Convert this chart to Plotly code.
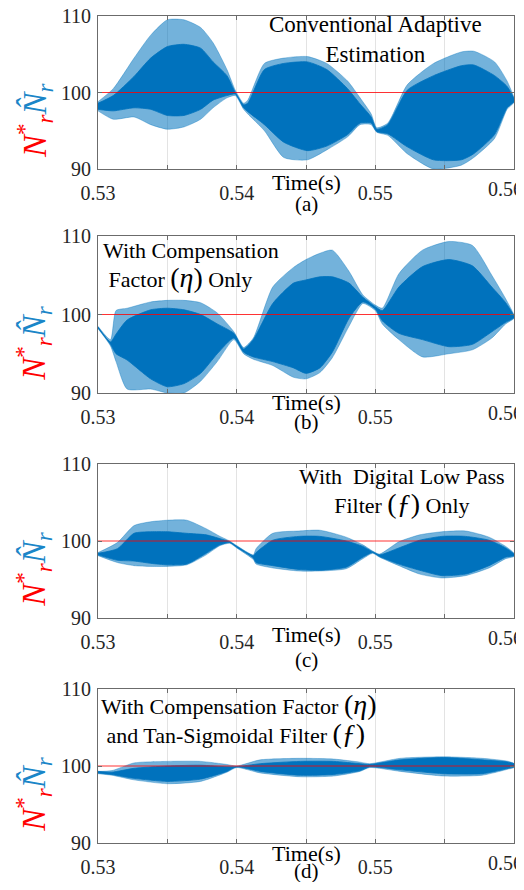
import plotly.graph_objects as go

# ---------------- data ----------------
REF_SPEED = 100
T_RANGE = [0.53, 0.56]
Y_RANGE = [90, 110]
X_TICKS = [0.53, 0.535, 0.54, 0.545, 0.55, 0.555, 0.56]
X_TICK_TEXT = ["0.53", "", "0.54", "", "0.55", "", ""]
LAST_TICK = 0.56
LAST_TICK_TEXT = "0.56"
Y_TICKS = [90, 100, 110]

# Panel (a): conventional adaptive estimation
t_a = [0.5300, 0.5311, 0.5326, 0.5338, 0.5350, 0.5362, 0.5374, 0.5383, 0.5393, 0.5399,
       0.5405, 0.5408, 0.5420, 0.5434, 0.5451, 0.5465, 0.5480, 0.5489, 0.5497, 0.5501,
       0.5509, 0.5523, 0.5542, 0.5562, 0.5571, 0.5586, 0.5595, 0.5600]
peak_hi_a = [98.8, 100.5, 104.5, 107.5, 109.5, 109.5, 108.5, 106.5, 103.0, 100.3,
             98.6, 99.0, 103.8, 104.5, 104.7, 103.8, 101.5, 99.3, 97.2, 95.4,
             96.0, 101.0, 103.8, 105.3, 105.4, 104.0, 101.5, 99.3]
band_hi_a = [98.6, 99.6, 102.1, 104.5, 106.0, 106.3, 105.8, 104.0, 102.2, 100.0,
             98.4, 98.6, 103.0, 103.8, 104.0, 103.0, 100.5, 98.5, 96.8, 95.2,
             95.8, 100.3, 102.2, 103.5, 103.6, 102.2, 100.8, 99.2]
band_lo_a = [97.8, 97.6, 98.0, 97.8, 97.0, 97.0, 97.8, 99.0, 99.6, 99.8,
             98.0, 97.5, 95.8, 93.5, 92.4, 93.0, 94.5, 96.0, 96.0, 94.9,
             94.6, 92.9, 91.2, 91.2, 92.0, 94.5, 98.0, 98.8]
peak_lo_a = [97.6, 96.5, 96.8, 95.8, 95.2, 95.5, 96.5, 98.0, 99.3, 99.6,
             97.8, 97.2, 95.0, 91.5, 91.2, 92.5, 94.2, 95.8, 95.8, 94.8,
             94.4, 92.0, 90.0, 90.5, 91.5, 94.0, 97.8, 98.7]

# Panel (b): with compensation factor only
t_b = [0.5300, 0.5309, 0.5313, 0.5321, 0.5338, 0.5350, 0.5362, 0.5374, 0.5386, 0.5398,
       0.5405, 0.5412, 0.5426, 0.5441, 0.5450, 0.5460, 0.5469, 0.5481, 0.5491, 0.5500,
       0.5505, 0.5517, 0.5534, 0.5553, 0.5570, 0.5584, 0.5594, 0.5600]
peak_hi_b = [98.5, 96.8, 100.5, 100.8, 101.6, 101.8, 101.8, 101.5, 100.2, 97.8,
             95.8, 97.0, 103.5, 106.0, 107.0, 107.8, 108.2, 105.5, 102.5, 101.2,
             100.8, 105.2, 108.2, 109.3, 108.8, 105.0, 102.0, 99.9]
band_hi_b = [98.4, 96.5, 97.5, 99.3, 100.6, 100.8, 100.6, 100.0, 98.8, 97.6,
             95.6, 96.8, 101.4, 104.0, 104.4, 104.8, 104.8, 104.0, 102.2, 101.0,
             100.5, 103.5, 106.1, 107.0, 106.2, 103.5, 101.5, 99.8]
band_lo_b = [98.3, 96.2, 95.0, 94.2, 91.8, 90.8, 91.2, 92.5, 95.0, 97.0,
             95.2, 94.6, 94.0, 93.2, 92.5, 93.2, 95.2, 99.5, 101.6, 100.7,
             99.2, 97.6, 96.8, 95.9, 96.2, 97.8, 99.0, 99.6]
peak_lo_b = [98.2, 96.0, 94.0, 90.5, 90.5, 90.0, 90.0, 91.5, 94.0, 96.8,
             95.0, 94.3, 93.5, 92.0, 91.8, 92.6, 94.5, 98.5, 101.4, 100.5,
             98.8, 96.8, 94.6, 95.0, 95.5, 97.0, 98.8, 99.5]

# Panel (c): with digital low pass filter only
t_c = [0.5300, 0.5314, 0.5326, 0.5338, 0.5350, 0.5364, 0.5378, 0.5388, 0.5395, 0.5400,
       0.5412, 0.5414, 0.5426, 0.5445, 0.5460, 0.5479, 0.5491, 0.5498, 0.5503, 0.5517,
       0.5532, 0.5548, 0.5565, 0.5582, 0.5594, 0.5600]
peak_hi_c = [98.5, 99.8, 102.0, 102.5, 102.7, 102.7, 101.6, 100.6, 100.0, 99.4,
             98.2, 99.0, 101.0, 101.3, 101.4, 100.5, 99.5, 98.7, 98.3, 99.9,
             100.8, 101.2, 101.3, 100.5, 99.3, 98.4]
band_hi_c = [98.4, 99.0, 101.0, 101.2, 101.2, 101.0, 100.8, 100.3, 99.9, 99.3,
             98.1, 98.5, 100.1, 100.6, 100.6, 100.0, 99.3, 98.6, 98.2, 99.1,
             100.1, 100.6, 100.6, 100.1, 99.1, 98.3]
band_lo_c = [98.2, 97.5, 97.4, 97.1, 96.9, 97.0, 98.4, 99.5, 99.8, 99.2,
             97.8, 97.2, 96.8, 96.3, 96.2, 96.6, 97.9, 98.5, 98.0, 97.0,
             96.2, 95.5, 95.7, 96.8, 97.9, 98.1]
peak_lo_c = [98.1, 97.2, 96.8, 96.7, 96.7, 96.9, 98.2, 99.4, 99.7, 99.1,
             97.6, 97.0, 96.5, 96.1, 96.1, 96.4, 97.7, 98.4, 97.9, 96.8,
             95.7, 95.2, 95.5, 96.5, 97.7, 98.0]

# Panel (d): with compensation factor and tan-sigmoidal filter
t_d = [0.5300, 0.5310, 0.5326, 0.5350, 0.5374, 0.5393, 0.5400, 0.5417, 0.5446, 0.5470,
       0.5489, 0.5496, 0.5518, 0.5549, 0.5577, 0.5596, 0.5600]
peak_hi_d = [99.3, 99.4, 100.4, 100.6, 100.6, 100.2, 100.0, 100.8, 101.0, 100.9,
             100.5, 100.3, 101.0, 101.2, 101.0, 100.6, 100.3]
band_hi_d = [99.3, 99.2, 99.7, 100.0, 100.1, 99.9, 99.9, 100.3, 100.6, 100.6,
             100.3, 100.2, 100.8, 101.1, 100.8, 100.5, 100.3]
band_lo_d = [99.1, 98.9, 98.4, 98.0, 98.3, 99.3, 99.9, 99.3, 98.8, 98.9,
             99.4, 99.9, 99.5, 99.0, 99.0, 99.7, 99.9]
peak_lo_d = [99.0, 98.8, 98.2, 97.7, 98.0, 99.2, 99.8, 99.1, 98.6, 98.7,
             99.3, 99.8, 99.3, 98.7, 98.8, 99.6, 99.8]

PANEL_TAGS = ["(a)", "(b)", "(c)", "(d)"]
PANEL_NOTES = [
    "Conventional Adaptive<br>Estimation",
    "With Compensation<br> Factor <span style='font-size:28px'>(<i>η</i>)</span> Only",
    "With  Digital Low Pass<br>Filter <span style='font-size:28px'>(<i>ƒ</i>)</span> Only",
    "With Compensation Factor <span style='font-size:28px'>(<i>η</i>)</span><br> and Tan-Sigmoidal Filter <span style='font-size:28px'>(<i>ƒ</i>)</span>",
]

# ---------------- layout constants ----------------
# page body has an 8px margin; keep the page from overflowing the 524x890 window
W, H = 516, 874
X_DOM = [90 / W, 506 / W]
PANEL_PX = [(8, 161), (228, 385), (456, 610), (681, 835)]  # top, bottom in px
TIME_SHIFT = [-13, -9, -16, -10]
TAG_SHIFT = [-35, -29, -42, -28]
NOTE_POS = [  # (x data, y value, xanchor, align, font size)
    (0.5500, 106.9, "center", "center", 23),
    (0.5302, 106.3, "left", "left", 22),
    (0.5519, 106.4, "center", "center", 22),
    (0.5301, 106.1, "left", "left", 22),
]

SERIF = "Liberation Serif"
BLUE = "#0072BD"

panels = [
    (t_a, peak_hi_a, band_hi_a, band_lo_a, peak_lo_a),
    (t_b, peak_hi_b, band_hi_b, band_lo_b, peak_lo_b),
    (t_c, peak_hi_c, band_hi_c, band_lo_c, peak_lo_c),
    (t_d, peak_hi_d, band_hi_d, band_lo_d, peak_lo_d),
]

fig = go.Figure()
annotations = []
for i, (t, phi, bhi, blo, plo) in enumerate(panels):
    k = "" if i == 0 else str(i + 1)
    xa, ya = "x" + k, "y" + k
    fig.add_trace(go.Scatter(
        x=t + t[::-1], y=phi + plo[::-1], xaxis=xa, yaxis=ya,
        fill="toself", fillcolor="rgba(0,114,189,0.55)", mode="lines",
        line=dict(width=0.6, color="rgba(0,114,189,0.6)", shape="spline", smoothing=0.6),
        hoverinfo="skip", showlegend=False))
    fig.add_trace(go.Scatter(
        x=t + t[::-1], y=bhi + blo[::-1], xaxis=xa, yaxis=ya,
        fill="toself", fillcolor=BLUE, mode="lines",
        line=dict(width=0.8, color=BLUE, shape="spline", smoothing=0.6),
        hoverinfo="skip", showlegend=False))
    fig.add_trace(go.Scatter(
        x=T_RANGE, y=[REF_SPEED, REF_SPEED], xaxis=xa, yaxis=ya, mode="lines",
        line=dict(width=1.2, color="rgba(255,0,0,0.8)"), hoverinfo="skip", showlegend=False))

    top, bot = PANEL_PX[i]
    ydom = [1 - bot / H, 1 - top / H]
    axis_common = dict(showline=True, mirror="ticks", linecolor="#6b6b6b", linewidth=1,
                       ticks="inside", ticklen=4, tickcolor="#6b6b6b",
                       tickfont=dict(family=SERIF, size=20, color="#262626"),
                       zeroline=False, automargin=False, ticklabeloverflow="allow")
    fig.layout["xaxis" + k] = dict(
        axis_common, domain=X_DOM, range=T_RANGE, tickvals=X_TICKS, ticktext=X_TICK_TEXT,
        showgrid=True, gridcolor="#e3e3e3", gridwidth=1, anchor=ya, ticklabelstandoff=6)
    fig.layout["yaxis" + k] = dict(
        axis_common, domain=ydom, range=Y_RANGE, tickvals=Y_TICKS,
        showgrid=False, anchor=xa, ticklabelstandoff=2)

    # last x tick label, nudged left so it fits the page like the reference
    annotations.append(dict(xref=xa, yref=ya + " domain", x=LAST_TICK, y=0,
                            text=LAST_TICK_TEXT, showarrow=False, yanchor="middle",
                            xanchor="center", yshift=-20, xshift=-9,
                            font=dict(family=SERIF, size=20, color="#262626")))
    annotations.append(dict(xref=xa + " domain", yref=ya + " domain", x=0.5, y=0,
                            text="Time(s)", showarrow=False, yanchor="middle",
                            yshift=TIME_SHIFT[i],
                            font=dict(family=SERIF, size=22, color="black")))
    annotations.append(dict(xref=xa + " domain", yref=ya + " domain", x=0.5, y=0,
                            text=PANEL_TAGS[i], showarrow=False, yanchor="middle",
                            yshift=TAG_SHIFT[i],
                            font=dict(family=SERIF, size=21, color="black")))
    nx, ny, nanc, nal, nfs = NOTE_POS[i]
    annotations.append(dict(xref=xa, yref=ya, x=nx, y=ny, text=PANEL_NOTES[i],
                            showarrow=False, xanchor=nanc, yanchor="middle", align=nal,
                            font=dict(family=SERIF, size=nfs, color="black")))
    annotations.append(dict(
        xref="paper", yref=ya + " domain", x=26 / W, y=0.32, textangle=-90,
        xanchor="center", yanchor="middle", showarrow=False,
        text=("<span style='color:#ff0000'><i>N</i><sup>*</sup><sub><i>r</i></sub></span>"
              "<span style='color:#1a86c8'><i>N̂</i><sub><i>r</i></sub></span>"),
        font=dict(family=SERIF, size=33)))

fig.update_layout(width=W, height=H, margin=dict(l=0, r=0, t=0, b=0, autoexpand=False),
                  paper_bgcolor="white", plot_bgcolor="white",
                  annotations=annotations, showlegend=False)

fig.write_html("out.html")
